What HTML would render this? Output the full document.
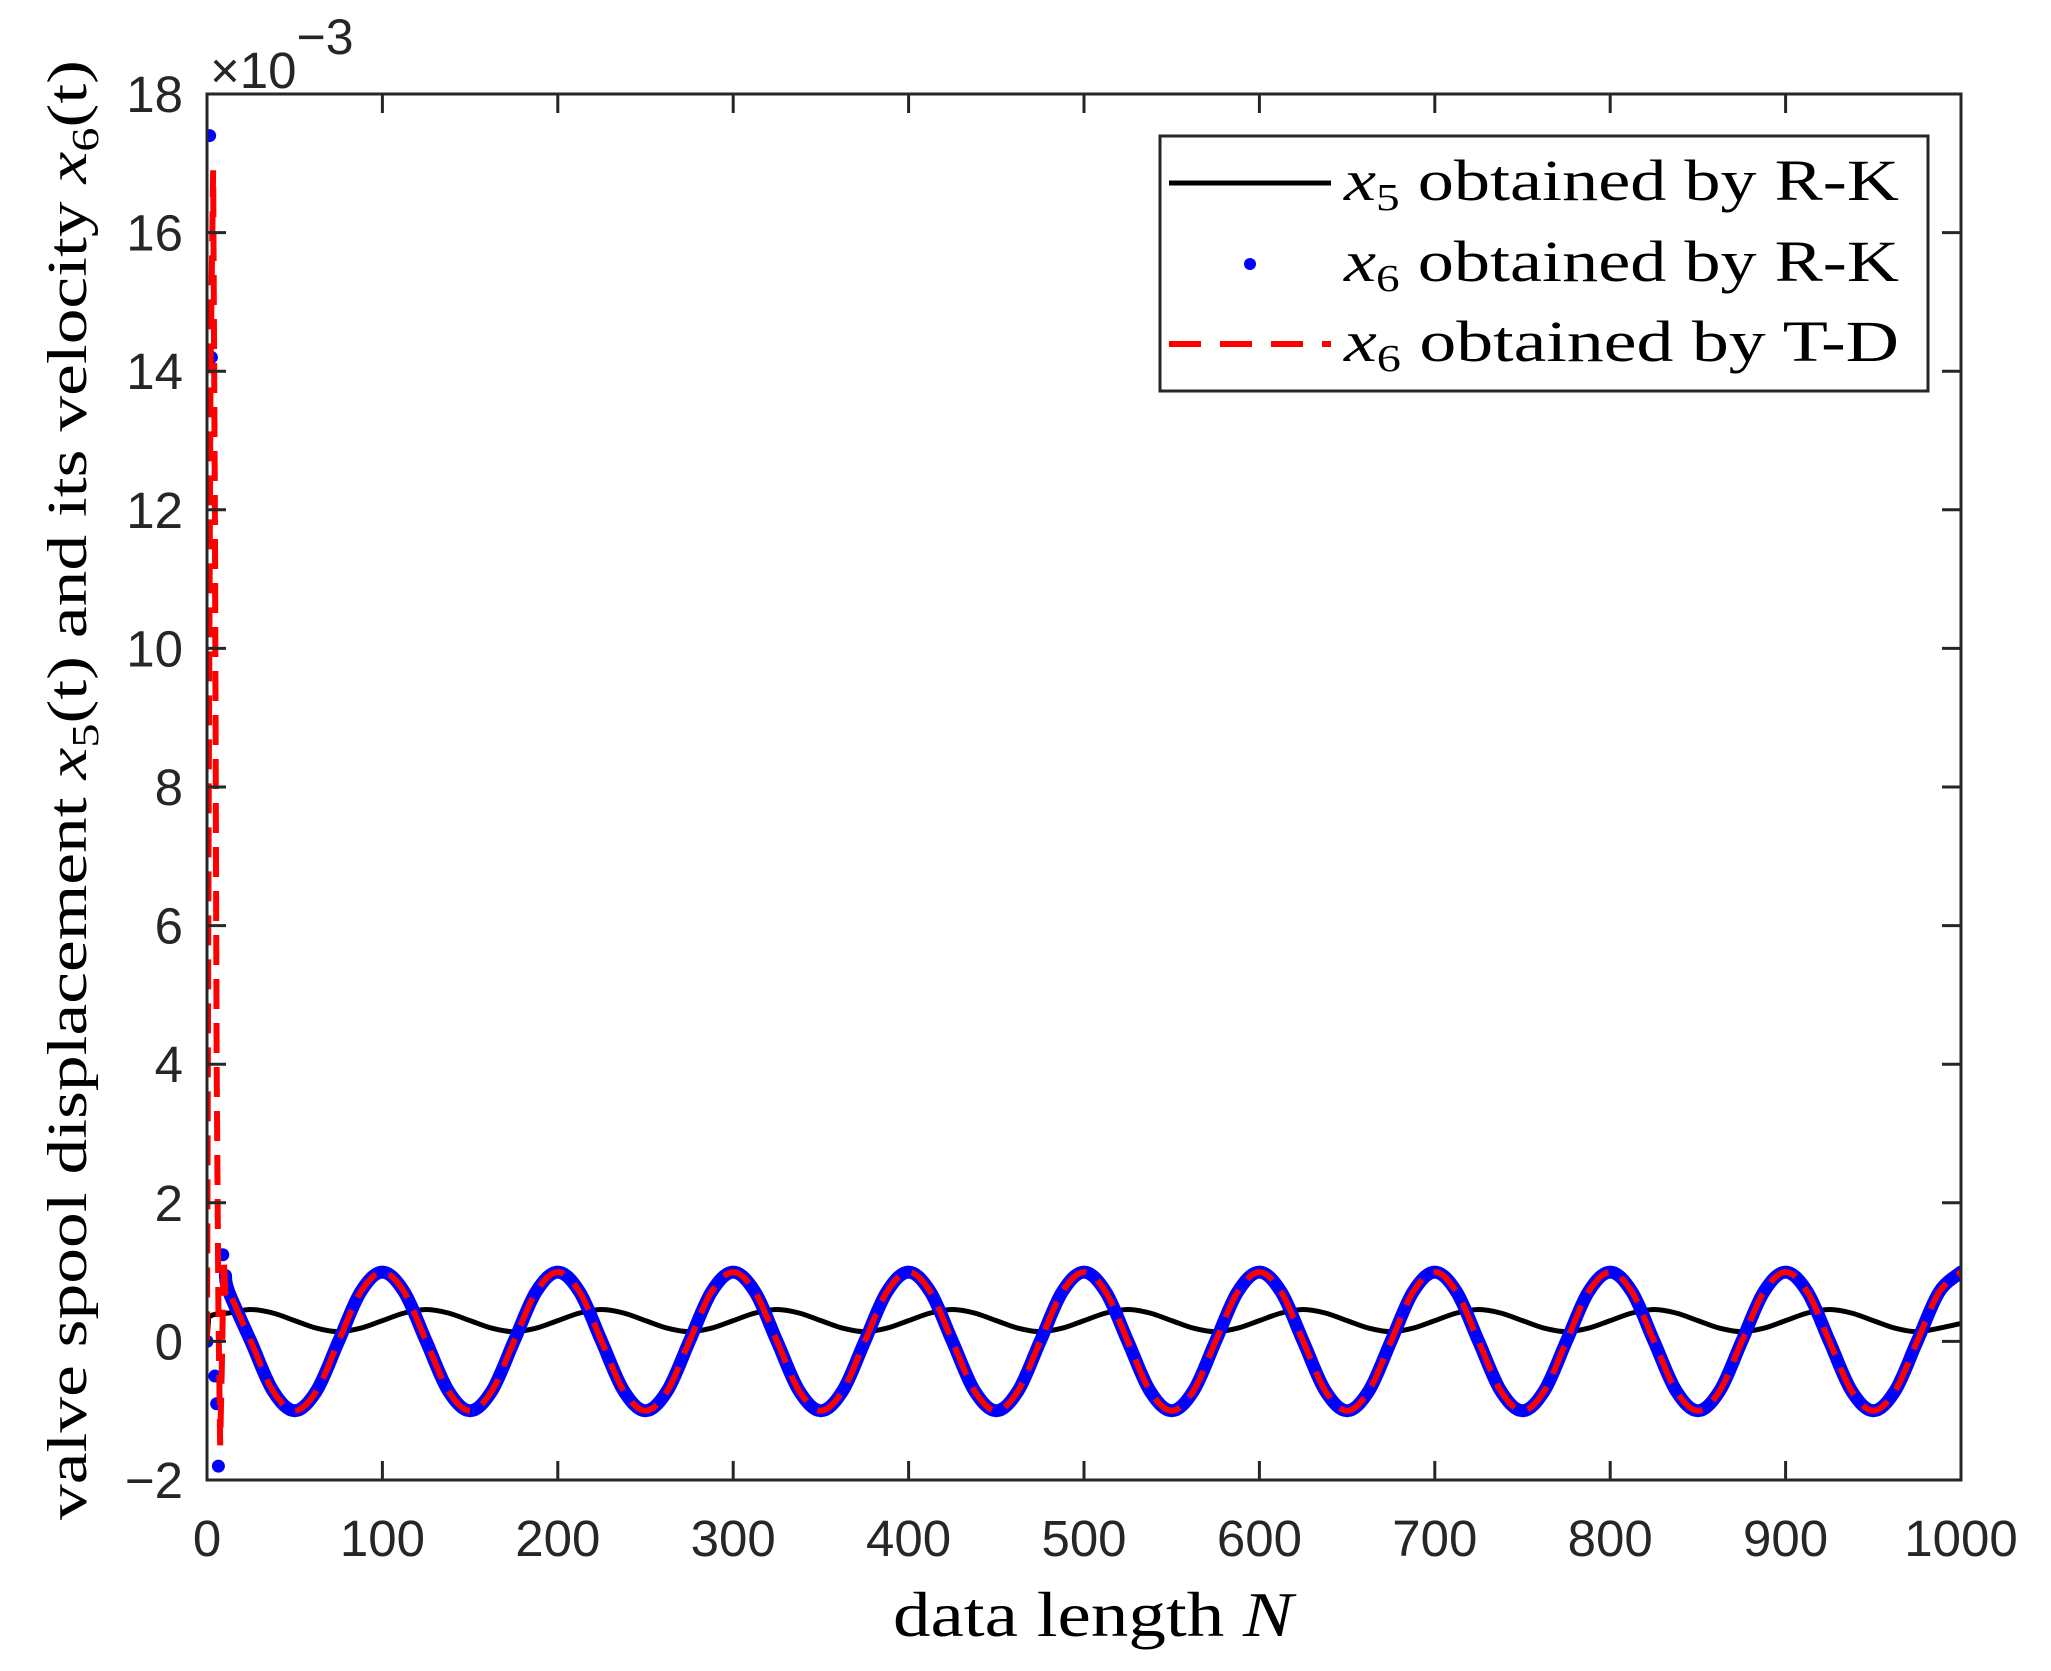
<!DOCTYPE html>
<html><head><meta charset="utf-8"><style>
html,body{margin:0;padding:0;background:#fff;}
svg{display:block;}
.tick{font-family:"Liberation Sans",sans-serif;font-size:51px;fill:#262626;}
.ser{font-family:"Liberation Serif",serif;fill:#000;}
</style></head><body>
<svg id="chart" width="2051" height="1671" viewBox="0 0 2051 1671" xmlns="http://www.w3.org/2000/svg">
<rect width="2051" height="1671" fill="#fff"/>
<g id="plot"></g>
<g id="axes"></g>
<text class="tick" x="210" y="88" font-size="60">×10<tspan dy="-34" font-size="50">−3</tspan></text>
<text class="ser" x="1093" y="1636" font-size="64" text-anchor="middle" textLength="400" lengthAdjust="spacingAndGlyphs">data length <tspan font-style="italic">N</tspan></text>
<text class="ser" transform="translate(86,790) rotate(-90)" font-size="56" text-anchor="middle" textLength="1460" lengthAdjust="spacingAndGlyphs">valve spool displacement <tspan font-style="italic">x</tspan><tspan font-size="38" dy="12">5</tspan><tspan dy="-12">(t) and its velocity </tspan><tspan font-style="italic">x</tspan><tspan font-size="38" dy="12">6</tspan><tspan dy="-12">(t)</tspan></text>
<g>
<rect x="1160" y="136" width="768" height="255" fill="#fff" stroke="#262626" stroke-width="3"/>
<line x1="1169" y1="183" x2="1331" y2="183" stroke="#000" stroke-width="5"/>
<circle cx="1250" cy="264" r="6" fill="#0000ff"/>
<line x1="1169" y1="344" x2="1331" y2="344" stroke="#ff0000" stroke-width="6" stroke-dasharray="32 19"/>
<text class="ser" x="1344" y="200" font-size="58" textLength="555" lengthAdjust="spacingAndGlyphs"><tspan font-style="italic">x</tspan><tspan font-size="38" dy="10">5</tspan><tspan dy="-10"> obtained by R-K</tspan></text>
<text class="ser" x="1344" y="281" font-size="58" textLength="555" lengthAdjust="spacingAndGlyphs"><tspan font-style="italic">x</tspan><tspan font-size="38" dy="10">6</tspan><tspan dy="-10"> obtained by R-K</tspan></text>
<text class="ser" x="1344" y="361" font-size="58" textLength="555" lengthAdjust="spacingAndGlyphs"><tspan font-style="italic">x</tspan><tspan font-size="38" dy="10">6</tspan><tspan dy="-10"> obtained by T-D</tspan></text>
</g>
</svg>
<script>
const xTicks = [0,100,200,300,400,500,600,700,800,900,1000];
const yTicks = [-2,0,2,4,6,8,10,12,14,16,18];
const xStep = 12.5;
// steady samples starting at n = 12.5, every 12.5
const x5Steady = [0.41,0.46,0.41,0.30,0.19,0.14,0.19,0.30, 0.41,0.46,0.41,0.30,0.19,0.14,0.19,0.30, 0.41,0.46,0.41,0.30,0.19,0.14,0.19,0.30, 0.41,0.46,0.41,0.30,0.19,0.14,0.19,0.30, 0.41,0.46,0.41,0.30,0.19,0.14,0.19,0.30, 0.41,0.46,0.41,0.30,0.19,0.14,0.19,0.30, 0.41,0.46,0.41,0.30,0.19,0.14,0.19,0.30, 0.41,0.46,0.41,0.30,0.19,0.14,0.19,0.30, 0.41,0.46,0.41,0.30,0.19,0.14,0.19,0.30, 0.41,0.46,0.41,0.30,0.19,0.14,0.19,0.26];
const x6Steady = [0.71,0,-0.71,-1,-0.71,0,0.71,1, 0.71,0,-0.71,-1,-0.71,0,0.71,1, 0.71,0,-0.71,-1,-0.71,0,0.71,1, 0.71,0,-0.71,-1,-0.71,0,0.71,1, 0.71,0,-0.71,-1,-0.71,0,0.71,1, 0.71,0,-0.71,-1,-0.71,0,0.71,1, 0.71,0,-0.71,-1,-0.71,0,0.71,1, 0.71,0,-0.71,-1,-0.71,0,0.71,1, 0.71,0,-0.71,-1,-0.71,0,0.71,1, 0.71,0,-0.71,-1,-0.71,0,0.71,1];
const x5TransN = [0,1,3,6];
const x5TransV = [0,0.35,0.38,0.40];
const tdTransN = [0,1,2,3.5,4.5,5.5,6.5,7.5,8.5,9.5,10.5];
const tdTransV = [0,8,14,16.9,12,4,0.5,-1.5,-0.3,1.2,0.7];
const rkTransN = [0,1.5,2.5,4.5,5.5,6.5,9,10.5];
const rkTransV = [0,17.4,14.2,-0.5,-0.9,-1.8,1.25,0.95];

const L=207,R=1961,T=94,B=1480;
const xs=v=>L+(v-0)/(1000-0)*(R-L);
const ys=v=>B-(v+2)/(18+2)*(B-T);
const NS='http://www.w3.org/2000/svg';
const plot=document.getElementById('plot'), axes=document.getElementById('axes');
function mk(tag,attrs,parent){const e=document.createElementNS(NS,tag);for(const k in attrs)e.setAttribute(k,attrs[k]);parent.appendChild(e);return e;}
function smooth(pts){let d='M'+pts[0][0].toFixed(2)+','+pts[0][1].toFixed(2);
 for(let i=0;i<pts.length-1;i++){const p0=pts[Math.max(0,i-1)],p1=pts[i],p2=pts[i+1],p3=pts[Math.min(pts.length-1,i+2)];
  const c1=[p1[0]+(p2[0]-p0[0])/6,p1[1]+(p2[1]-p0[1])/6],c2=[p2[0]-(p3[0]-p1[0])/6,p2[1]-(p3[1]-p1[1])/6];
  d+=' C'+c1[0].toFixed(2)+','+c1[1].toFixed(2)+' '+c2[0].toFixed(2)+','+c2[1].toFixed(2)+' '+p2[0].toFixed(2)+','+p2[1].toFixed(2);}
 return d;}
function steadyPts(arr){return arr.map((v,i)=>[xs((i+1)*xStep),ys(v)]);}
const clip=mk('clipPath',{id:'clipPlot'},plot);
mk('rect',{x:L,y:T,width:R-L,height:B-T},clip);
const g=mk('g',{'clip-path':'url(#clipPlot)'},plot);



const p5=x5TransN.map((n,i)=>[xs(n),ys(x5TransV[i])]);
const l5=mk('path',{d:'M'+p5.map(p=>p.join(',')).join(' L')+' '+smooth([p5[p5.length-1]].concat(steadyPts(x5Steady))).replace('M',' L'),fill:'none',stroke:'#000','stroke-width':5},g);



const lb=mk('path',{d:smooth([[xs(rkTransN[rkTransN.length-1]),ys(rkTransV[rkTransV.length-1])]].concat(steadyPts(x6Steady))),fill:'none',stroke:'#0000ff','stroke-width':13,'stroke-linecap':'round'},g);


rkTransN.forEach((n,i)=>{const c=mk('circle',{cx:xs(n),cy:ys(rkTransV[i]),r:6.5,fill:'#0000ff'},g);
 
 });

const pt=tdTransN.map((n,i)=>[xs(n),ys(tdTransV[i])]);
const lr=mk('path',{d:'M'+pt.map(p=>p.join(',')).join(' L')+' '+smooth([pt[pt.length-1]].concat(steadyPts(x6Steady))).replace('M',' L'),fill:'none',stroke:'#ff0000','stroke-width':6,'stroke-dasharray':'30 14'},g);



const box=mk('rect',{x:L,y:T,width:R-L,height:B-T,fill:'none',stroke:'#262626','stroke-width':3},axes);


xTicks.forEach(v=>{const x=xs(v);
 mk('line',{x1:x,y1:B,x2:x,y2:B-19,stroke:'#262626','stroke-width':3},axes);
 mk('line',{x1:x,y1:T,x2:x,y2:T+19,stroke:'#262626','stroke-width':3},axes);
 const t=mk('text',{x:x,y:1556,'text-anchor':'middle',class:'tick'},axes);t.textContent=v;
 
 });
yTicks.forEach(v=>{const y=ys(v);
 mk('line',{x1:L,y1:y,x2:L+19,y2:y,stroke:'#262626','stroke-width':3},axes);
 mk('line',{x1:R,y1:y,x2:R-19,y2:y,stroke:'#262626','stroke-width':3},axes);
 const t=mk('text',{x:183,y:y+18,'text-anchor':'end',class:'tick'},axes);t.textContent=v<0?'\u2212'+(-v):v;
 
 });
</script>
</body></html>
